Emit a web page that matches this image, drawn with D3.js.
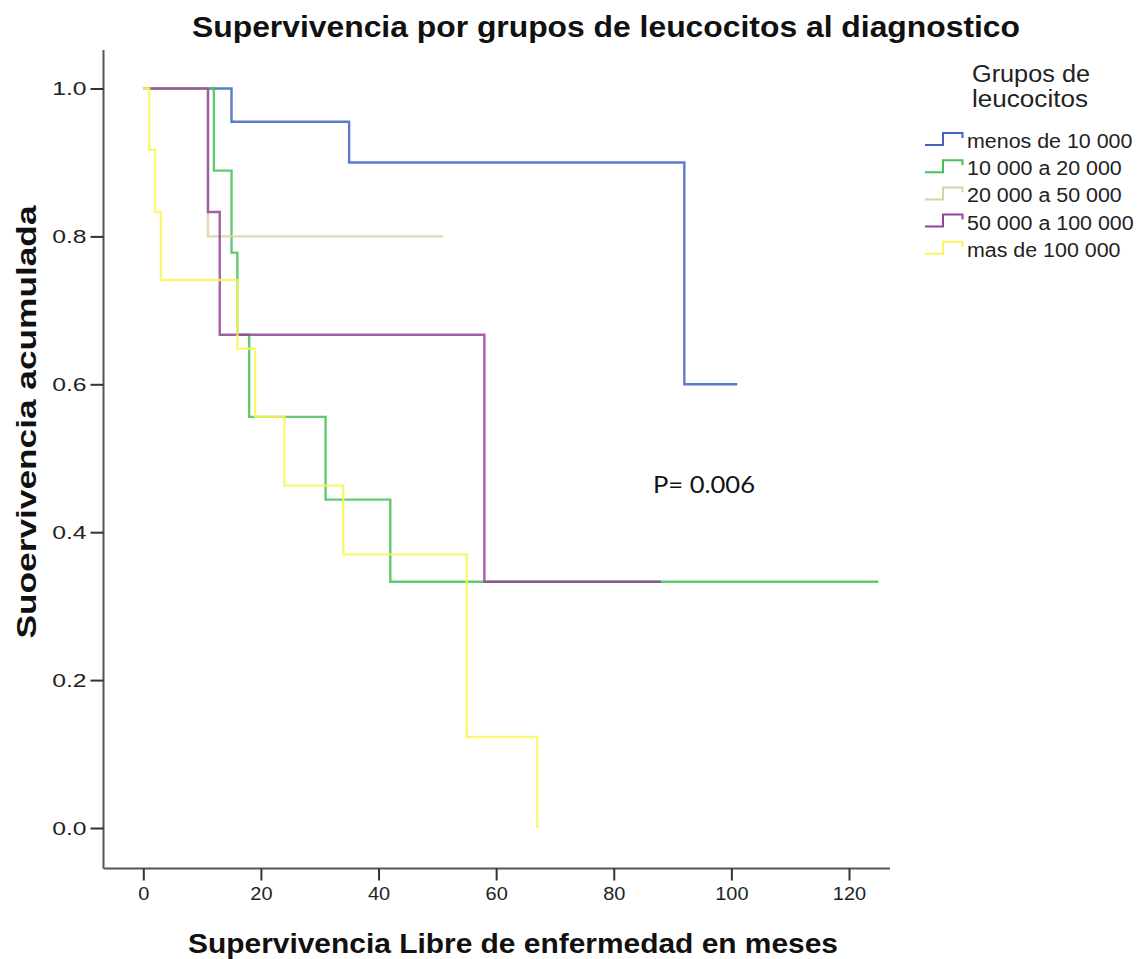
<!DOCTYPE html>
<html>
<head>
<meta charset="utf-8">
<script src="https://cdn.jsdelivr.net/npm/d3@7"></script>
<style>
  html, body { margin: 0; padding: 0; background: #fff; }
  svg { display: block; }
  text { font-family: "Liberation Sans", Arial, sans-serif; }
</style>
</head>
<body>
<svg id="chart" width="1139" height="959"></svg>
<script>
// Kaplan-Meier step curves, one per leukocyte group at diagnosis
const groups = ["menos de 10 000", "10 000 a 20 000", "20 000 a 50 000", "50 000 a 100 000", "mas de 100 000"];
const colors = ["#4163c2", "#45c157", "#d8d3a6", "#93449a", "#f8f65a"];

// event / censoring times (months) and cumulative survival after each step
const timesMenos10 = [0, 15, 35, 92, 101];
const survMenos10  = [1, 0.955, 0.9, 0.6, 0.6];

const times10a20 = [0, 12, 15, 16, 18, 31, 42, 125];
const surv10a20  = [1, 0.889, 0.778, 0.667, 0.556, 0.444, 0.333, 0.333];

const times20a50 = [0, 11, 51];
const surv20a50  = [1, 0.8, 0.8];

const times50a100 = [1, 11, 13, 58, 88];
const surv50a100  = [1, 0.833, 0.667, 0.333, 0.333];

const timesMas100 = [0, 1, 2, 3, 16, 19, 24, 34, 55, 67];
const survMas100  = [1, 0.917, 0.833, 0.741, 0.648, 0.556, 0.463, 0.370, 0.123, 0];

const seriesTimes = [timesMenos10, times10a20, times20a50, times50a100, timesMas100];
const seriesSurv  = [survMenos10, surv10a20, surv20a50, surv50a100, survMas100];

const xTicks = [0, 20, 40, 60, 80, 100, 120];
const yTicks = [0.0, 0.2, 0.4, 0.6, 0.8, 1.0];

const svg = d3.select("#chart");

const x = d3.scaleLinear().domain([0, 120]).range([143.3, 849]);
const y = d3.scaleLinear().domain([0, 1]).range([828, 88.5]);

const axisLeftX = 103.5, axisBottomY = 868.5;
const axisColor = "#555";

// widen a text element horizontally by a factor, keeping its anchor
function stretch(sel, factor) {
  sel.each(function () {
    const w = this.getComputedTextLength();
    d3.select(this).attr("textLength", w * factor).attr("lengthAdjust", "spacingAndGlyphs");
  });
}

// axis frame lines
svg.append("line")
  .attr("x1", axisLeftX).attr("x2", axisLeftX)
  .attr("y1", 50).attr("y2", axisBottomY)
  .attr("stroke", axisColor).attr("stroke-width", 2);
svg.append("line")
  .attr("x1", axisLeftX).attr("x2", 890)
  .attr("y1", axisBottomY).attr("y2", axisBottomY)
  .attr("stroke", axisColor).attr("stroke-width", 2);

// x axis
const gx = svg.append("g").attr("transform", `translate(0,${axisBottomY})`)
  .call(d3.axisBottom(x).tickValues(xTicks).tickFormat(d3.format("d")).tickSize(12).tickPadding(6));
gx.select(".domain").remove();
gx.selectAll(".tick line").attr("stroke", "#333").attr("stroke-width", 2);
gx.selectAll(".tick text").attr("fill", "#222").style("font-size", "19px")
  .style("font-family", "'Liberation Sans', Arial, sans-serif");
stretch(gx.selectAll(".tick text"), 1.05);

// y axis
const gy = svg.append("g").attr("transform", `translate(${axisLeftX},0)`)
  .call(d3.axisLeft(y).tickValues(yTicks).tickFormat(d3.format(".1f")).tickSize(13).tickPadding(4));
gy.select(".domain").remove();
gy.selectAll(".tick line").attr("stroke", "#333").attr("stroke-width", 2);
gy.selectAll(".tick text").attr("fill", "#222").style("font-size", "19px")
  .style("font-family", "'Liberation Sans', Arial, sans-serif");
stretch(gy.selectAll(".tick text"), 1.3);

// survival curves
const line = d3.line()
  .x(d => x(d[0]))
  .y(d => y(d[1]))
  .curve(d3.curveStepAfter);

groups.forEach((g, i) => {
  const pts = seriesTimes[i].map((t, j) => [t, seriesSurv[i][j]]);
  svg.append("path")
    .datum(pts)
    .attr("d", line)
    .attr("fill", "none")
    .attr("stroke", colors[i])
    .attr("stroke-width", 2.4)
    .attr("stroke-opacity", 0.85);
});

// title
svg.append("text")
  .attr("x", 606).attr("y", 37)
  .attr("text-anchor", "middle")
  .attr("textLength", 828).attr("lengthAdjust", "spacingAndGlyphs")
  .style("font-size", "30px").style("font-weight", "bold").attr("fill", "#111")
  .text("Supervivencia por grupos de leucocitos al diagnostico");

// axis titles
svg.append("text")
  .attr("transform", "translate(36,422) rotate(-90)")
  .attr("text-anchor", "middle")
  .attr("textLength", 433).attr("lengthAdjust", "spacingAndGlyphs")
  .style("font-size", "27px").style("font-weight", "bold").attr("fill", "#111")
  .text("Suoervivencia acumulada");

svg.append("text")
  .attr("x", 513).attr("y", 953)
  .attr("text-anchor", "middle")
  .attr("textLength", 650).attr("lengthAdjust", "spacingAndGlyphs")
  .style("font-size", "28px").style("font-weight", "bold").attr("fill", "#111")
  .text("Supervivencia Libre de enfermedad en meses");

// p-value annotation
svg.append("text")
  .attr("x", 653).attr("y", 493)
  .attr("textLength", 102).attr("lengthAdjust", "spacingAndGlyphs")
  .style("font-family", "Lato, 'Open Sans', sans-serif")
  .style("font-size", "24px").attr("fill", "#111")
  .text("P= 0.006");

// legend
const legend = svg.append("g");
legend.append("text")
  .attr("x", 1031).attr("y", 82).attr("text-anchor", "middle")
  .attr("textLength", 118).attr("lengthAdjust", "spacingAndGlyphs")
  .style("font-size", "23px").attr("fill", "#222")
  .text("Grupos de");
legend.append("text")
  .attr("x", 1030).attr("y", 107).attr("text-anchor", "middle")
  .attr("textLength", 116).attr("lengthAdjust", "spacingAndGlyphs")
  .style("font-size", "23px").attr("fill", "#222")
  .text("leucocitos");

groups.forEach((g, i) => {
  const cy = 140 + i * 27.2;
  legend.append("path")
    .attr("d", `M925,${cy + 5} H943 V${cy - 7} H962.5 V${cy - 2}`)
    .attr("fill", "none")
    .attr("stroke", colors[i])
    .attr("stroke-width", 2);
  const t = legend.append("text")
    .attr("x", 967).attr("y", cy + 8)
    .style("font-size", "20px").attr("fill", "#222")
    .text(g);
  stretch(t, 1.07);
});
</script>
</body>
</html>
